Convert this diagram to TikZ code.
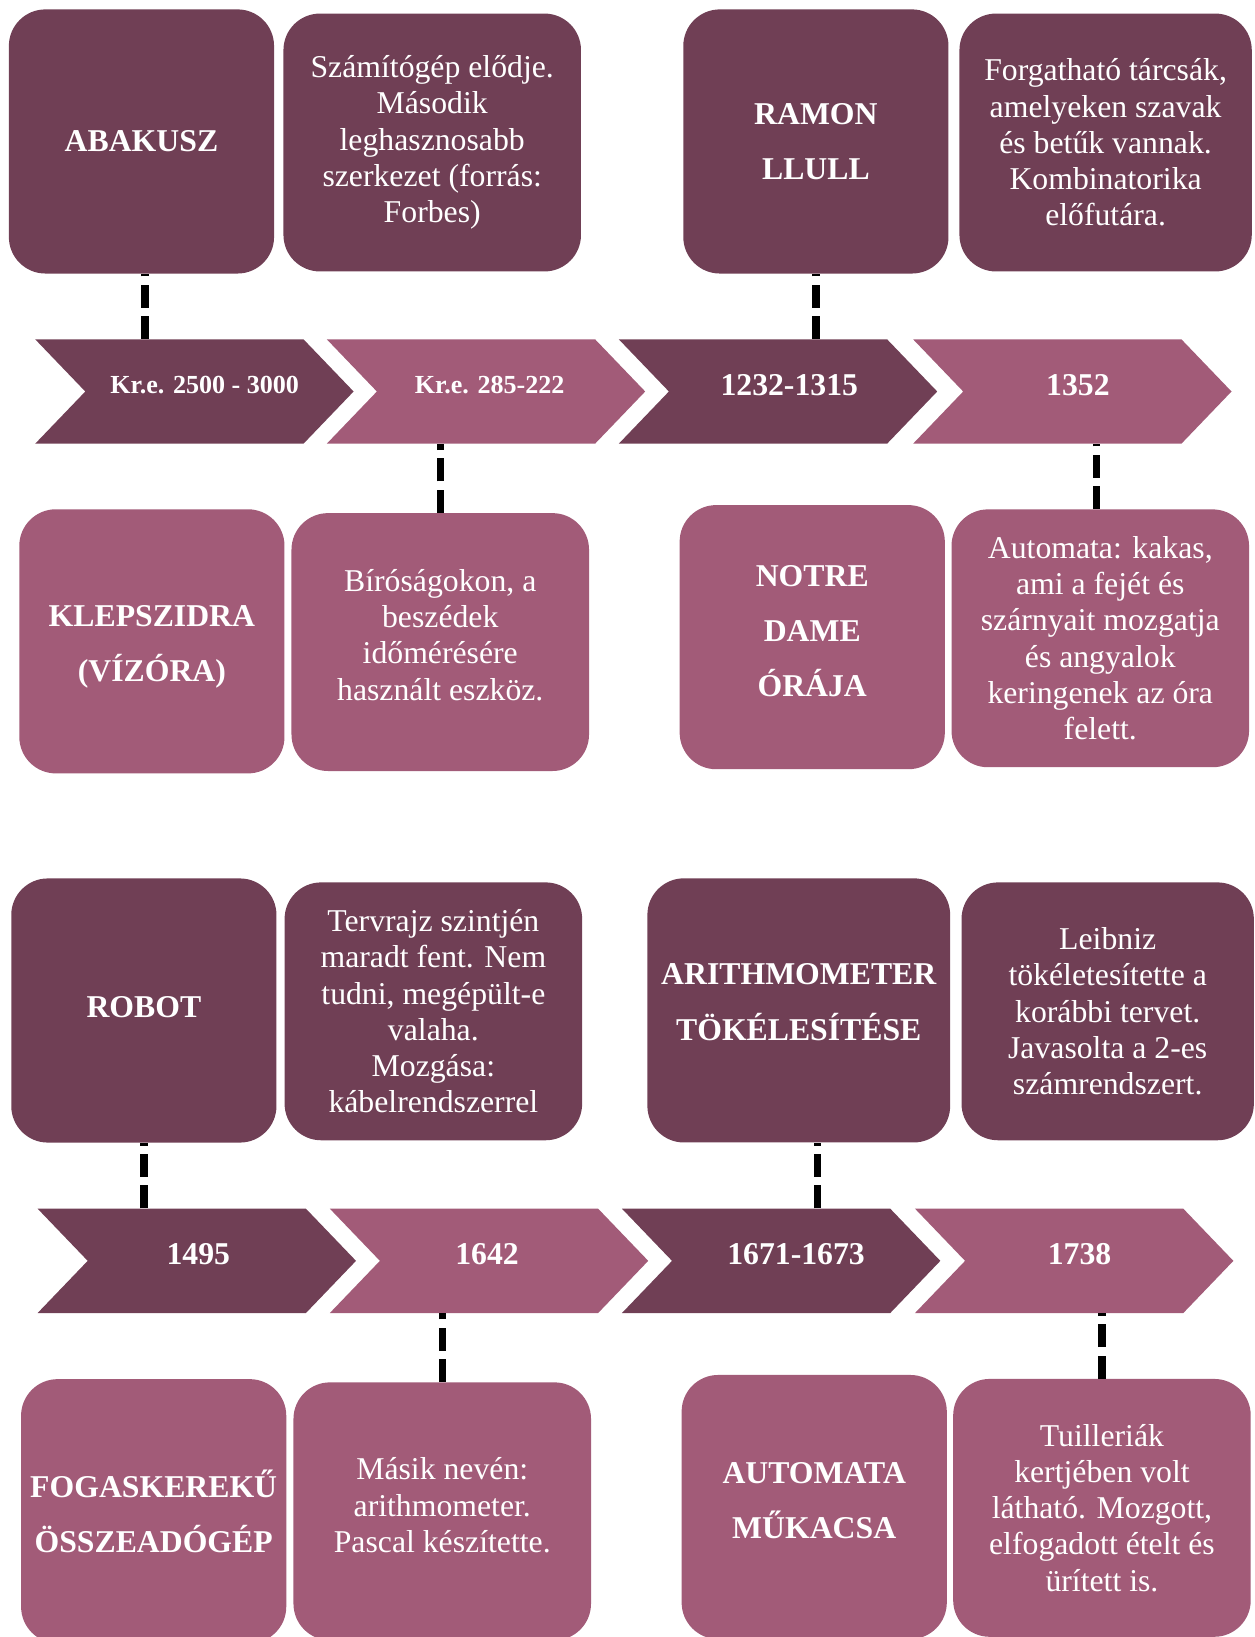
\documentclass[tikz,border=0pt]{standalone}
\usepackage{fontspec}
\setmainfont{Liberation Serif}
\definecolor{plumdark}{HTML}{703F55}
\definecolor{plumlight}{HTML}{A25B78}
\newcommand{\krfont}{\fontsize{14.2}{16}\selectfont}
\newcommand{\up}[1]{\rule[-#1]{0pt}{0pt}}
\newcommand{\down}[1]{\rule{0pt}{#1}}

\begin{document}
\begin{tikzpicture}[x=0.2mm,y=-0.2mm]
\tikzset{
  box/.style={rounded corners=7mm,text=white,inner sep=0pt,align=center},
  darkbox/.style={box,fill=plumdark},
  lightbox/.style={box,fill=plumlight},
  sq/.style={minimum width=50.8mm,minimum height=50.6mm},
  wide/.style={minimum width=57mm,minimum height=49.4mm},
  titlefont/.style={font=\bfseries\fontsize{17.3}{30.2}\selectfont},
  descfont/.style={font=\fontsize{17.3}{19.75}\selectfont},
  yearlabel/.style={text=white,font=\bfseries\fontsize{17.3}{20}\selectfont,
    minimum width=51.4mm,minimum height=20mm,text depth=2.6mm,inner sep=0pt},
  conn/.style={line width=1.4mm,dash pattern=on 4.4mm off 1.6mm}
}
\useasboundingbox (0,0) rectangle (1202,1568);

\foreach \x/\lx/\yy/\col/\nm/\txt in {
  33.7/196/375/plumdark/c1/{\krfont Kr.e. 2500 - 3000},
  313/469/375/plumlight/c2/{\krfont Kr.e. 285-222},
  592.7/756/375/plumdark/c3/1232-1315,
  874.6/1032.5/375/plumlight/c4/1352,
  36/190/1207.7/plumdark/c5/1495,
  315.9/466.5/1207.7/plumlight/c6/1642,
  595.7/762.5/1207.7/plumdark/c7/1671-1673,
  876.4/1034/1207.7/plumlight/c8/1738}
{
  \fill[\col] (\x,\yy-50) -- ++(257,0) -- ++(48,50) -- ++(-48,50) -- ++(-257,0) -- ++(48,-50) -- cycle;
  \node[yearlabel] (\nm) at (\lx,\yy) {\txt};
}

\node[darkbox,sq,titlefont] (abakusz) at (135.5,135.5) {ABAKUSZ};
\node[darkbox,wide,descfont] (forbes) at (414,136.5)
  {Számítógép elődje.\\Második\\leghasznosabb\\szerkezet (forrás:\\Forbes)};
\node[darkbox,sq,titlefont] (llull) at (781.5,135.5) {RAMON\\LLULL};
\node[darkbox,wide,descfont,minimum width=56mm] (tarcsa) at (1059,136.5)
  {Forgatható tárcsák,\\amelyeken szavak\\és betűk vannak.\\Kombinatorika\\előfutára.};

\node[lightbox,sq,titlefont] (klepszidra) at (145.5,614.3) {\down{6.1mm}KLEPSZIDRA\\(VÍZÓRA)};
\node[lightbox,wide,descfont] (birosag) at (421.7,615)
  {Bíróságokon, a\\beszédek\\időmérésére\\használt eszköz.\up{2.8mm}};
\node[lightbox,sq,titlefont] (notre) at (778,610.3) {NOTRE\\DAME\\ÓRÁJA\up{2.4mm}};
\node[lightbox,wide,descfont] (kakas) at (1053.9,611.4)
  {Automata: kakas,\\ami a fejét és\\szárnyait mozgatja\\és angyalok\\keringenek az óra\\felett.};

\node[darkbox,sq,titlefont] (robot) at (137.8,967.9) {ROBOT\up{1.2mm}};
\node[darkbox,wide,descfont] (tervrajz) at (415.1,968.7)
  {Tervrajz szintjén\\maradt fent. Nem\\tudni, megépült-e\\valaha.\\Mozgása:\\kábelrendszerrel};
\node[darkbox,sq,titlefont,minimum width=58mm] (arith) at (765.1,967.8) {ARITHMOMETER\\TÖKÉLESÍTÉSE\up{3.2mm}};
\node[darkbox,wide,descfont,minimum width=56mm] (leibniz) at (1061,968.7)
  {Leibniz\\tökéletesítette a\\korábbi tervet.\\Javasolta a 2-es\\számrendszert.};

\node[lightbox,sq,titlefont] (fogasker) at (147.2,1447.5) {FOGASKEREKŰ\\ÖSSZEADÓGÉP};
\node[lightbox,wide,descfont] (pascal) at (423.6,1447.6)
  {Másik nevén:\\arithmometer.\\Pascal készítette.\up{2.4mm}};
\node[lightbox,sq,titlefont] (mukacsa) at (779.9,1443.5) {AUTOMATA\\MŰKACSA\up{2.4mm}};
\node[lightbox,wide,descfont] (tuileria) at (1055.5,1444.3)
  {Tuilleriák\\kertjében volt\\látható. Mozgott,\\elfogadott ételt és\\ürített is.};

\coordinate (abakuszfoot) at ([xshift=0.7mm]abakusz.south);
\coordinate (kakashead) at ([xshift=-0.7mm]kakas.north);
\coordinate (arithfoot) at ([xshift=3.54mm]arith.south);

\draw[conn] (abakuszfoot |- c1.north) -- (abakuszfoot);
\draw[conn] (llull.south |- c3.north) -- (llull.south);
\draw[conn] (birosag.north) -- (birosag.north |- c2.south);
\draw[conn] (kakashead) -- (kakashead |- c4.south);
\draw[conn] (robot.south |- c5.north) -- (robot.south);
\draw[conn] (arithfoot |- c7.north) -- (arithfoot);
\draw[conn] (pascal.north) -- (pascal.north |- c6.south);
\draw[conn] (tuileria.north) -- (tuileria.north |- c8.south);
\end{tikzpicture}
\end{document}
